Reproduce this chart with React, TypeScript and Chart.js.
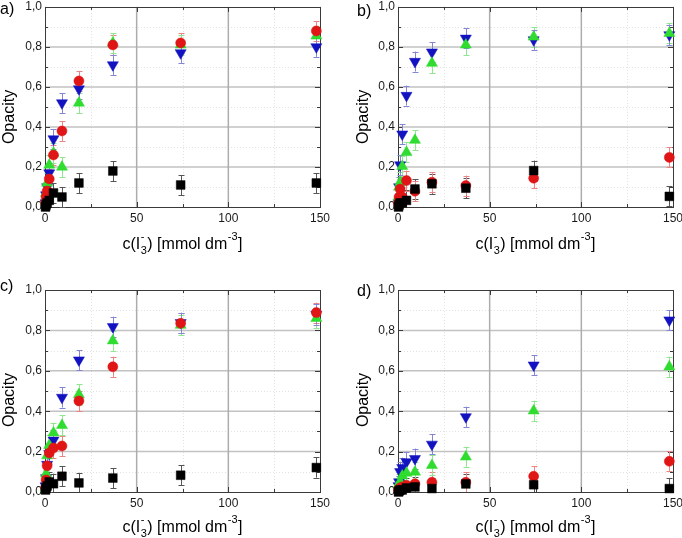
import React, { useEffect, useRef } from "react";
import { Chart, registerables } from "chart.js";
Chart.register(...registerables);

// ---------- data ----------
const CONCENTRATIONS = [0.29, 0.58, 1.16, 2.31, 4.63, 9.25, 18.5, 37, 74, 148];
const X_TICKS = [0, 50, 100, 150];
const X_MINOR = [25, 75, 125];
const Y_TICKS = [0, 0.2, 0.4, 0.6, 0.8, 1.0];
const Y_MINOR = [0.1, 0.3, 0.5, 0.7, 0.9];
const ERROR = 0.05;

const PANEL_LABELS = ["a)", "b)", "c)", "d)"];
const Y_TITLE = "Opacity";
const X_TITLE_PARTS = [
  { text: "c(I" },
  { sup: "-", sub: "3" },
  { text: ") [mmol dm" },
  { sup: "-3", sub: "" },
  { text: "]" },
];

// panel a
const A_BLACK = [0.0, 0.01, 0.02, 0.033, 0.07, 0.05, 0.12, 0.18, 0.11, 0.12];
const A_RED = [0.02, 0.05, 0.08, 0.14, 0.26, 0.38, 0.63, 0.81, 0.82, 0.88];
const A_GREEN = [0.03, 0.07, 0.12, 0.21, 0.27, 0.2, 0.52, 0.82, 0.81, 0.855];
const A_BLUE = [0.02, 0.06, 0.1, 0.17, 0.34, 0.52, 0.59, 0.71, 0.77, 0.8];
// panel b
const B_BLACK = [0.0, 0.01, 0.02, 0.02, 0.033, 0.09, 0.116, 0.094, 0.182, 0.053];
const B_RED = [0.02, 0.05, 0.09, 0.05, 0.132, 0.079, 0.124, 0.107, 0.144, 0.248];
const B_GREEN = [0.05, 0.1, 0.124, 0.203, 0.273, 0.334, 0.719, 0.81, 0.85, 0.868];
const B_BLUE = [0.02, 0.1, 0.21, 0.364, 0.557, 0.727, 0.774, 0.843, 0.835, 0.86];
// panel c
const C_BLACK = [0.01, 0.02, 0.03, 0.05, 0.041, 0.078, 0.045, 0.069, 0.083, 0.121];
const C_RED = [0.02, 0.06, 0.13, 0.193, 0.218, 0.228, 0.451, 0.62, 0.835, 0.888];
const C_GREEN = [0.02, 0.09, 0.18, 0.231, 0.293, 0.33, 0.483, 0.749, 0.826, 0.86];
const C_BLUE = [0.03, 0.07, 0.136, 0.19, 0.256, 0.468, 0.653, 0.818, 0.838, 0.879];
// panel d
const D_BLACK = [0.0, 0.005, 0.01, 0.01, 0.02, 0.025, 0.017, 0.04, 0.036, 0.017];
const D_RED = [0.01, 0.015, 0.02, 0.025, 0.033, 0.041, 0.048, 0.048, 0.078, 0.152];
const D_GREEN = [0.03, 0.04, 0.05, 0.08, 0.094, 0.099, 0.132, 0.174, 0.402, 0.62];
const D_BLUE = [0.03, 0.05, 0.1, 0.12, 0.149, 0.165, 0.236, 0.372, 0.628, 0.851];

// ---------- styles ----------
const FONT = "'Liberation Sans', Arial, Helvetica, sans-serif";
const SERIES_STYLES = [
  { pointStyle: "rect", radius: 6.2, rotation: 0, color: "#000000", err: "#555555" },
  { pointStyle: "circle", radius: 5, rotation: 0, color: "#e01515", err: "#e98585" },
  { pointStyle: "triangle", radius: 6.4, rotation: 0, color: "#2fdc2f", err: "#8fe88f" },
  { pointStyle: "triangle", radius: 6.4, rotation: 180, color: "#1212c0", err: "#8585d6" },
];

const PANELS = [
  { left: 0, top: 0, w: 340, h: 270, area: { l: 45, r: 320, t: 5, b: 207 }, labelX: 0, labelY: 10, yTitleX: 10, yShift: 10, xBase: 42, series: [A_BLACK, A_RED, A_GREEN, A_BLUE] },
  { left: 340, top: 0, w: 342, h: 270, area: { l: 58, r: 333, t: 5, b: 207 }, labelX: 17, labelY: 12, yTitleX: 23.5, yShift: 10, xBase: 42, series: [B_BLACK, B_RED, B_GREEN, B_BLUE] },
  { left: 0, top: 270, w: 340, h: 268, area: { l: 45, r: 320, t: 20, b: 222 }, labelX: 0, labelY: 17, yTitleX: 10, yShift: 9, xBase: 40, series: [C_BLACK, C_RED, C_GREEN, C_BLUE] },
  { left: 340, top: 270, w: 342, h: 268, area: { l: 58, r: 333, t: 20, b: 222 }, labelX: 17, labelY: 22, yTitleX: 23.5, yShift: 9, xBase: 40, series: [D_BLACK, D_RED, D_GREEN, D_BLUE] },
];

const px = (v: number) => Math.round(v) + 0.5;

const framePlugin = {
  id: "originFrame",
  beforeDatasetsDraw(chart: any) {
    const { ctx, chartArea } = chart;
    const { left, right, top, bottom } = chartArea;
    const xs = chart.scales.x;
    const ys = chart.scales.y;
    ctx.save();
    // minor dotted grid
    ctx.lineWidth = 1;
    ctx.strokeStyle = "#e2e2e2";
    ctx.setLineDash([1, 2]);
    ctx.beginPath();
    X_MINOR.forEach((v) => {
      const p = px(xs.getPixelForValue(v));
      ctx.moveTo(p, top);
      ctx.lineTo(p, bottom);
    });
    Y_MINOR.forEach((v) => {
      const p = px(ys.getPixelForValue(v));
      ctx.moveTo(left, p);
      ctx.lineTo(right, p);
    });
    ctx.stroke();
    // major solid grid
    ctx.setLineDash([]);
    ctx.strokeStyle = "#c2c2c2";
    ctx.lineWidth = 1.5;
    ctx.beginPath();
    Y_TICKS.slice(1, -1).forEach((v) => {
      const p = ys.getPixelForValue(v);
      ctx.moveTo(left, p);
      ctx.lineTo(right, p);
    });
    ctx.stroke();
    ctx.strokeStyle = "#adadad";
    ctx.beginPath();
    X_TICKS.slice(1, -1).forEach((v) => {
      const p = xs.getPixelForValue(v);
      ctx.moveTo(p, top);
      ctx.lineTo(p, bottom);
    });
    ctx.stroke();
    // frame
    ctx.strokeStyle = "#3a3a3a";
    ctx.lineWidth = 1;
    ctx.strokeRect(px(left), px(top), Math.round(right - left), Math.round(bottom - top));
    // inner ticks
    ctx.beginPath();
    const tickX = (v: number, len: number) => {
      const p = px(xs.getPixelForValue(v));
      ctx.moveTo(p, bottom);
      ctx.lineTo(p, bottom - len);
      ctx.moveTo(p, top);
      ctx.lineTo(p, top + len);
    };
    const tickY = (v: number, len: number) => {
      const p = px(ys.getPixelForValue(v));
      ctx.moveTo(left, p);
      ctx.lineTo(left + len, p);
      ctx.moveTo(right, p);
      ctx.lineTo(right - len, p);
    };
    X_TICKS.forEach((v) => tickX(v, 5));
    X_MINOR.forEach((v) => tickX(v, 3));
    Y_TICKS.forEach((v) => tickY(v, 5));
    Y_MINOR.forEach((v) => tickY(v, 3));
    ctx.stroke();
    // error bars
    ctx.lineWidth = 1;
    chart.data.datasets.forEach((ds: any) => {
      ctx.strokeStyle = ds.errColor;
      ctx.beginPath();
      ds.data.forEach((pt: any) => {
        const cx = px(xs.getPixelForValue(pt.x));
        const y1 = Math.min(bottom, ys.getPixelForValue(pt.y - ERROR));
        const y2 = Math.max(top, ys.getPixelForValue(pt.y + ERROR));
        ctx.moveTo(cx, y1);
        ctx.lineTo(cx, y2);
        if (ys.getPixelForValue(pt.y + ERROR) >= top) {
          ctx.moveTo(cx - 3, px(y2));
          ctx.lineTo(cx + 3, px(y2));
        }
        if (ys.getPixelForValue(pt.y - ERROR) <= bottom) {
          ctx.moveTo(cx - 3, px(y1));
          ctx.lineTo(cx + 3, px(y1));
        }
      });
      ctx.stroke();
    });
    ctx.restore();
  },
  afterDraw(chart: any) {
    const opts = chart.options.plugins.originFrame;
    const { ctx, chartArea } = chart;
    const { left, right, top, bottom } = chartArea;
    ctx.save();
    ctx.fillStyle = "#000";
    // panel label
    ctx.font = `16px ${FONT}`;
    ctx.textAlign = "left";
    ctx.textBaseline = "middle";
    ctx.fillText(opts.label, opts.labelX, opts.labelY);
    // y title
    ctx.save();
    ctx.translate(opts.yTitleX, (top + bottom) / 2 + opts.yShift);
    ctx.rotate(-Math.PI / 2);
    ctx.textAlign = "center";
    ctx.textBaseline = "middle";
    ctx.fillText(Y_TITLE, 0, 0);
    ctx.restore();
    // x title (rich)
    const main = `16px ${FONT}`;
    const small = `11px ${FONT}`;
    const widths = X_TITLE_PARTS.map((p: any) => {
      if (p.text !== undefined) {
        ctx.font = main;
        return ctx.measureText(p.text).width;
      }
      ctx.font = small;
      return Math.max(ctx.measureText(p.sup || "").width, ctx.measureText(p.sub || "").width) + 1;
    });
    const total = widths.reduce((a: number, b: number) => a + b, 0);
    let x = (left + right) / 2 - total / 2;
    const base = bottom + opts.xBase;
    ctx.textAlign = "left";
    ctx.textBaseline = "alphabetic";
    X_TITLE_PARTS.forEach((p: any, i: number) => {
      if (p.text !== undefined) {
        ctx.font = main;
        ctx.fillText(p.text, x, base);
      } else {
        ctx.font = small;
        if (p.sup) ctx.fillText(p.sup, x + 0.5, base - 9);
        if (p.sub) ctx.fillText(p.sub, x + 0.5, base + 5);
      }
      x += widths[i];
    });
    ctx.restore();
  },
};

function Panel({ cfg, label }: { cfg: any; label: string }) {
  const ref = useRef<HTMLCanvasElement>(null);
  useEffect(() => {
    const { area, w, h } = cfg;
    const datasets = cfg.series.map((vals: number[], i: number) => {
      const s = SERIES_STYLES[i];
      return {
        data: CONCENTRATIONS.map((x, j) => ({ x, y: vals[j] })),
        pointStyle: s.pointStyle,
        pointRadius: s.radius,
        pointRotation: s.rotation,
        backgroundColor: s.color,
        borderColor: s.color,
        borderWidth: 0.5,
        errColor: s.err,
        clip: false,
      };
    });
    const chart = new Chart(ref.current as HTMLCanvasElement, {
      type: "scatter",
      data: { datasets },
      plugins: [framePlugin],
      options: {
        animation: false,
        responsive: false,
        events: [],
        layout: { padding: { left: 0, top: area.t, right: w - area.r, bottom: 0 } },
        plugins: {
          legend: { display: false },
          tooltip: { enabled: false },
          originFrame: { label, labelX: cfg.labelX, labelY: cfg.labelY, yTitleX: cfg.yTitleX, yShift: cfg.yShift, xBase: cfg.xBase },
        } as any,
        scales: {
          x: {
            type: "linear",
            min: 0,
            max: 150,
            afterBuildTicks: (s: any) => {
              s.ticks = X_TICKS.map((v) => ({ value: v }));
            },
            afterFit: (s: any) => {
              s.height = h - area.b;
              s.paddingLeft = 0;
              s.paddingRight = 0;
            },
            ticks: {
              color: "#1a1a1a",
              font: { family: FONT, size: 12 },
              padding: 4,
              maxRotation: 0,
              autoSkip: false,
              callback: (v: any) => String(v),
            },
            grid: { display: false, drawTicks: false },
            border: { display: false },
          },
          y: {
            type: "linear",
            min: 0,
            max: 1,
            afterBuildTicks: (s: any) => {
              s.ticks = Y_TICKS.map((v) => ({ value: v }));
            },
            afterFit: (s: any) => {
              s.width = area.l;
              s.paddingTop = 0;
              s.paddingBottom = 0;
            },
            ticks: {
              color: "#1a1a1a",
              font: { family: FONT, size: 12 },
              padding: 3,
              autoSkip: false,
              callback: (v: any) => Number(v).toFixed(1).replace(".", ","),
            },
            grid: { display: false, drawTicks: false },
            border: { display: false },
          },
        },
      } as any,
    });
    return () => chart.destroy();
  }, []);
  return (
    <canvas
      ref={ref}
      width={cfg.w}
      height={cfg.h}
      style={{ position: "absolute", left: cfg.left, top: cfg.top, width: cfg.w, height: cfg.h }}
    />
  );
}

export default function App() {
  return (
    <div style={{ position: "fixed", left: 0, top: 0, width: 682, height: 538, background: "#fff" }}>
      {PANELS.map((p, i) => (
        <Panel key={i} cfg={p} label={PANEL_LABELS[i]} />
      ))}
    </div>
  );
}
